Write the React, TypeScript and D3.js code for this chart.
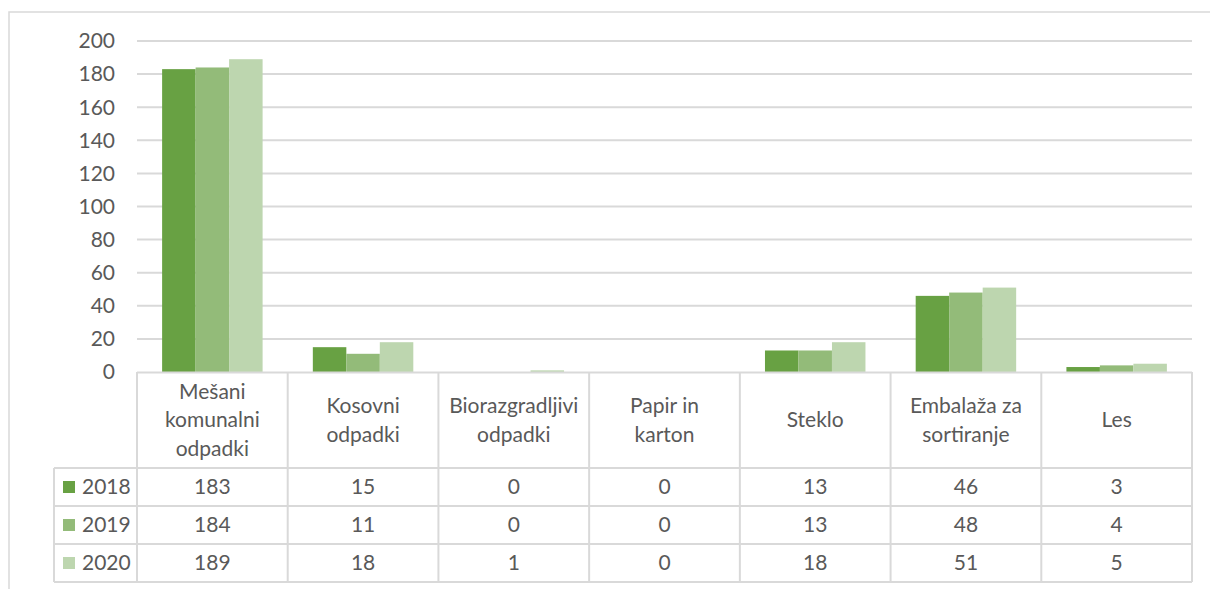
import { scaleBand, scaleLinear } from 'd3'

// Količine odpadkov po vrstah, 2018–2020 — stolpčni graf s podatkovno tabelo (Excel slog)

const categories = [
  ['Mešani', 'komunalni', 'odpadki'],
  ['Kosovni', 'odpadki'],
  ['Biorazgradljivi', 'odpadki'],
  ['Papir in', 'karton'],
  ['Steklo'],
  ['Embalaža za', 'sortiranje'],
  ['Les'],
]
const years = ['2018', '2019', '2020']
const values2018 = [183, 15, 0, 0, 13, 46, 3]
const values2019 = [184, 11, 0, 0, 13, 48, 4]
const values2020 = [189, 18, 1, 0, 18, 51, 5]
const yTicks = [0, 20, 40, 60, 80, 100, 120, 140, 160, 180, 200]

const series = [values2018, values2019, values2020]
const COLORS = ['#68a143', '#93bb79', '#bdd6af']
const GRID = '#d9d9d9'
const TEXT = '#595959'
const FONT = 'Lato, "Open Sans", sans-serif'
const FS = 21

const W = 1210
const H = 589
const PLOT = { left: 137, right: 1192, top: 41, bottom: 372 }
const HEADER_H = 96
const ROW_H = 38
const LEGEND_X = 54

export default function App() {
  const keys = categories.map((c) => c.join(' '))
  const x = scaleBand().domain(keys).range([PLOT.left, PLOT.right])
  const inner = scaleBand().domain(years).range([0, x.step()]).paddingInner(0).paddingOuter(0.75)
  const y = scaleLinear().domain([0, 200]).range([PLOT.bottom, PLOT.top])

  const headerBottom = PLOT.bottom + HEADER_H
  const rowY = years.map((_, i) => headerBottom + i * ROW_H)
  const tableBottom = headerBottom + years.length * ROW_H
  const bounds = keys.map((k) => x(k) ?? 0).concat(PLOT.right)

  return (
    <div style={{ position: 'absolute', left: 0, top: 0 }}>
      <svg width={W} height={H} style={{ display: 'block', fontFamily: FONT }}>
        <rect x={0} y={0} width={W} height={H} fill="#fff" />
        <rect x={9} y={12} width={W + 20} height={H + 20} fill="none" stroke={GRID} strokeWidth={1.5} />

        {yTicks.filter((t) => t > 0).map((t) => (
          <line key={t} x1={PLOT.left} x2={PLOT.right} y1={y(t)} y2={y(t)} stroke={GRID} strokeWidth={2} />
        ))}
        {yTicks.map((t) => (
          <text key={t} x={115} y={y(t)} dy="0.35em" textAnchor="end" fontSize={FS} fill={TEXT}>
            {t}
          </text>
        ))}

        {series.map((vals, si) =>
          vals.map((v, ci) => {
            const bx = (x(keys[ci]) ?? 0) + (inner(years[si]) ?? 0)
            if (v <= 0) return null
            return (
              <rect key={`${si}-${ci}`} x={bx} y={y(v)} width={inner.bandwidth()} height={y(0) - y(v)} fill={COLORS[si]} />
            )
          }),
        )}

        {/* podatkovna tabela */}
        <g stroke={GRID} strokeWidth={2}>
          <line x1={PLOT.left} x2={PLOT.right} y1={PLOT.bottom + 0.5} y2={PLOT.bottom + 0.5} />
          {[headerBottom, ...rowY.slice(1), tableBottom].map((yy) => (
            <line key={yy} x1={LEGEND_X} x2={PLOT.right} y1={yy} y2={yy} />
          ))}
          {bounds.map((bx) => (
            <line key={bx} x1={bx} x2={bx} y1={PLOT.bottom} y2={tableBottom} />
          ))}
          <line x1={LEGEND_X} x2={LEGEND_X} y1={headerBottom} y2={tableBottom} />
        </g>

        {categories.map((lines, ci) => {
          const cx = (x(keys[ci]) ?? 0) + x.bandwidth() / 2
          const lh = 28.5
          const cy = PLOT.bottom + HEADER_H / 2
          return (
            <text key={ci} x={cx} textAnchor="middle" fontSize={FS} fill={TEXT}>
              {lines.map((l, li) => (
                <tspan key={li} x={cx} y={cy + (li - (lines.length - 1) / 2) * lh} dy="0.35em">
                  {l}
                </tspan>
              ))}
            </text>
          )
        })}

        {years.map((yr, si) => {
          const cy = rowY[si] + ROW_H / 2
          return (
            <g key={yr}>
              <rect x={63} y={cy - 6} width={12} height={12} fill={COLORS[si]} />
              <text x={82} y={cy} dy="0.35em" fontSize={FS} fill={TEXT}>
                {yr}
              </text>
              {series[si].map((v, ci) => (
                <text
                  key={ci}
                  x={(x(keys[ci]) ?? 0) + x.bandwidth() / 2}
                  y={cy}
                  dy="0.35em"
                  textAnchor="middle"
                  fontSize={FS}
                  fill={TEXT}
                >
                  {v}
                </text>
              ))}
            </g>
          )
        })}
      </svg>
    </div>
  )
}
